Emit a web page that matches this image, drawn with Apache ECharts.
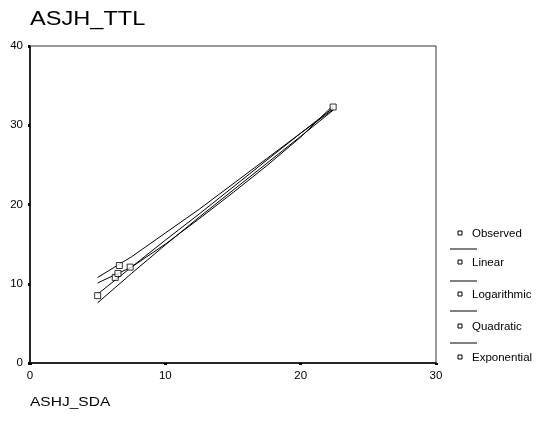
<!DOCTYPE html>
<html>
<head>
<meta charset="utf-8">
<script src="https://cdn.jsdelivr.net/npm/echarts@6/dist/echarts.min.js"></script>
<style>
  html, body { margin: 0; padding: 0; background: #fff; }
  #chart { width: 537px; height: 425px; }
</style>
</head>
<body>
<div id="chart"></div>
<script>
// Observed values
const obsX = [5.0, 6.3, 6.5, 6.6, 7.4, 22.4];
const obsY = [8.5, 10.8, 11.3, 12.3, 12.1, 32.3];

// Fitted curves, sampled across the observed range
const fitX = [5, 7.5, 10, 12.5, 15, 17.5, 20, 22.4];
const linearY = [8.7, 12.1, 15.5, 18.8, 22.2, 25.6, 29.0, 32.2];
const logarithmicY = [7.6, 11.3, 14.9, 18.4, 21.8, 25.2, 28.6, 31.9];
const quadraticY = [10.8, 13.4, 16.4, 19.4, 22.6, 25.8, 29.0, 32.0];
const exponentialY = [10.1, 12.1, 15.0, 18.2, 21.5, 24.9, 28.5, 32.5];

const xTicks = [0, 10, 20, 30];
const yTicks = [0, 10, 20, 30, 40];
const legendNames = ['Observed', 'Linear', 'Logarithmic', 'Quadratic', 'Exponential'];

const FONT = 'Liberation Sans, Arial, sans-serif';
const pair = (xs, ys) => xs.map((x, i) => [x, ys[i]]);

const fitLine = (name, ys) => ({
  name: name,
  type: 'line',
  data: pair(fitX, ys),
  showSymbol: false,
  symbol: 'none',
  lineStyle: { color: '#000', width: 1 },
  z: 2
});

// Legend: small square per entry, separator line between entries
const legendGraphics = [];
const rowY = [234, 263, 295, 327, 358];
const sepY = [249, 281, 311, 343];
legendNames.forEach((n, i) => {
  legendGraphics.push({
    type: 'rect',
    shape: { x: 458, y: rowY[i] - 3, width: 4, height: 4 },
    style: { fill: '#fff', stroke: '#000', lineWidth: 1 }
  });
  legendGraphics.push({
    type: 'text',
    x: 472, y: rowY[i],
    style: { text: n, font: '11.5px ' + FONT, fill: '#000', verticalAlign: 'middle' }
  });
});
sepY.forEach(y => {
  legendGraphics.push({
    type: 'line',
    shape: { x1: 450, y1: y, x2: 477, y2: y },
    style: { stroke: '#000', lineWidth: 1 }
  });
});

const chart = echarts.init(document.getElementById('chart'), null, { renderer: 'canvas' });
chart.setOption({
  animation: false,
  backgroundColor: '#fff',
  grid: {
    left: 30, right: 101, top: 46, bottom: 62,
    show: true, borderColor: '#333', borderWidth: 1, backgroundColor: 'transparent'
  },
  xAxis: {
    type: 'value', min: xTicks[0], max: xTicks[xTicks.length - 1], interval: 10,
    axisLine: { show: true, lineStyle: { color: '#000', width: 1.5 } },
    axisTick: { show: true, length: 2, lineStyle: { color: '#000', width: 3 } },
    splitLine: { show: false },
    axisLabel: { color: '#000', fontFamily: FONT, fontSize: 11.5, margin: 7 }
  },
  yAxis: {
    type: 'value', min: yTicks[0], max: yTicks[yTicks.length - 1], interval: 10,
    axisLine: { show: true, lineStyle: { color: '#000', width: 1.5 } },
    axisTick: { show: true, length: 2, lineStyle: { color: '#000', width: 3 } },
    splitLine: { show: false },
    axisLabel: { color: '#000', fontFamily: FONT, fontSize: 11.5, margin: 7 }
  },
  graphic: [
    {
      type: 'text', x: 30, y: 19, scaleX: 1.18,
      style: { text: 'ASJH_TTL', font: '20px ' + FONT, fill: '#000', verticalAlign: 'middle' }
    },
    {
      type: 'text', x: 30, y: 402, scaleX: 1.15,
      style: { text: 'ASHJ_SDA', font: '13.5px ' + FONT, fill: '#000', verticalAlign: 'middle' }
    }
  ].concat(legendGraphics),
  series: [
    fitLine('Linear', linearY),
    fitLine('Logarithmic', logarithmicY),
    fitLine('Quadratic', quadraticY),
    fitLine('Exponential', exponentialY),
    {
      name: 'Observed',
      type: 'scatter',
      data: pair(obsX, obsY),
      symbol: 'rect',
      symbolSize: 6,
      itemStyle: { color: '#fff', borderColor: '#000', borderWidth: 1 },
      z: 5
    }
  ]
});
</script>
</body>
</html>
